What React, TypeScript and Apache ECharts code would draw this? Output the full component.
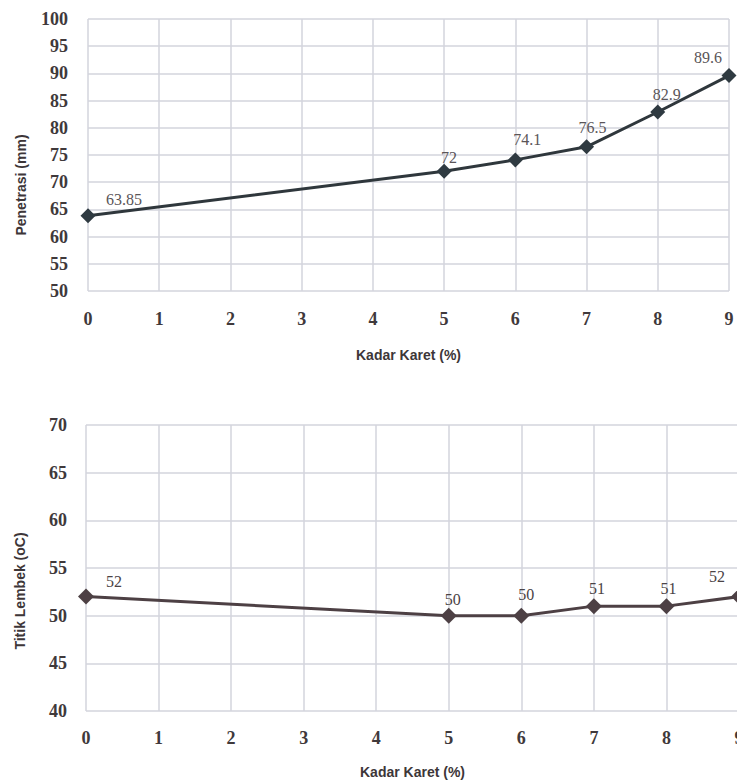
import React, { useEffect, useRef } from "react";
import * as echarts from "echarts";

const xValues = [0, 5, 6, 7, 8, 9];
const penetrasi = [63.85, 72, 74.1, 76.5, 82.9, 89.6];
const titikLembek = [52, 50, 50, 51, 51, 52];
const penetrasiLabels = ["63.85", "72", "74.1", "76.5", "82.9", "89.6"];
const titikLabels = ["52", "50", "50", "51", "51", "52"];

const penetrasiLabelOffsets = [[36, -16], [5, -14], [12, -20], [6, -19], [9, -18], [-21, -18]];
const titikLabelOffsets = [[28, -15], [4, -16], [5, -21], [3, -18], [2, -18], [-22, -20]];

const xTitle = "Kadar Karet (%)";
const yTitleTop = "Penetrasi (mm)";
const yTitleBottom = "Titik Lembek (oC)";

const serif = "'Liberation Serif', 'DejaVu Serif', serif";
const sans = "'Liberation Sans', Arial, sans-serif";
const gridColor = "#d3d4dc";
const tickColor = "#3f393b";

export default function App() {
  const ref = useRef<HTMLDivElement>(null);
  useEffect(() => {
    const chart = echarts.init(ref.current!, null, { renderer: "svg" });
    const mkData = (ys: number[], labels: string[], offs: number[][]) =>
      ys.map((y, i) => ({
        value: [xValues[i], y],
        label: { formatter: labels[i], offset: offs[i] },
      }));
    const xAxisBase = (gridIndex: number, nameGap: number, margin: number) => ({
      type: "value" as const,
      gridIndex,
      min: 0,
      max: 9,
      interval: 1,
      name: xTitle,
      nameLocation: "middle" as const,
      nameGap,
      nameTextStyle: { fontFamily: sans, fontWeight: "bold", fontSize: 14, color: "#3d3638" },
      axisLine: { show: false },
      axisTick: { show: false },
      axisLabel: { fontFamily: serif, fontSize: 18, fontWeight: "bold", color: tickColor, margin },
      splitLine: { show: true, lineStyle: { color: gridColor, width: 1.5 } },
    });
    const yAxisBase = (gridIndex: number, min: number, max: number, margin: number) => ({
      type: "value" as const,
      gridIndex,
      min,
      max,
      interval: 5,
      axisLine: { show: false },
      axisTick: { show: false },
      axisLabel: { fontFamily: serif, fontSize: 18, fontWeight: "bold", color: tickColor, margin },
      splitLine: { show: true, lineStyle: { color: gridColor, width: 1.5 } },
    });
    chart.setOption({
      animation: false,
      backgroundColor: "#ffffff",
      grid: [
        { left: 88, top: 19, right: 8, height: 272, outerBoundsMode: "none", containLabel: false },
        { left: 86, top: 425, right: -2, height: 286, outerBoundsMode: "none", containLabel: false },
      ],
      xAxis: [xAxisBase(0, 57, 19), xAxisBase(1, 54, 18)],
      yAxis: [yAxisBase(0, 50, 100, 20), yAxisBase(1, 40, 70, 19)],
      graphic: [
        {
          type: "text",
          x: 21,
          y: 185,
          rotation: Math.PI / 2,
          style: {
            text: yTitleTop,
            fontFamily: sans,
            fontWeight: "bold",
            fontSize: 14,
            fill: "#3d3638",
            align: "center",
            verticalAlign: "middle",
          },
        },
        {
          type: "text",
          x: 20,
          y: 591,
          rotation: Math.PI / 2,
          style: {
            text: yTitleBottom,
            fontFamily: sans,
            fontWeight: "bold",
            fontSize: 14,
            fill: "#3d3638",
            align: "center",
            verticalAlign: "middle",
          },
        },
      ],
      series: [
        {
          type: "line",
          xAxisIndex: 0,
          yAxisIndex: 0,
          data: mkData(penetrasi, penetrasiLabels, penetrasiLabelOffsets),
          symbol: "diamond",
          symbolSize: 15,
          lineStyle: { color: "#2f373c", width: 3 },
          itemStyle: { color: "#2f3a41" },
          label: {
            show: true,
            position: "inside",
            fontFamily: serif,
            fontSize: 16,
            color: "#5a5558",
          },
        },
        {
          type: "line",
          xAxisIndex: 1,
          yAxisIndex: 1,
          data: mkData(titikLembek, titikLabels, titikLabelOffsets),
          symbol: "diamond",
          symbolSize: 16,
          lineStyle: { color: "#4d4044", width: 3 },
          itemStyle: { color: "#4d4044" },
          label: {
            show: true,
            position: "inside",
            fontFamily: serif,
            fontSize: 16,
            color: "#4a4345",
          },
        },
      ],
    });
    return () => chart.dispose();
  }, []);
  return (
    <div
      ref={ref}
      style={{ position: "fixed", left: 0, top: 0, width: 737, height: 783 }}
    />
  );
}
